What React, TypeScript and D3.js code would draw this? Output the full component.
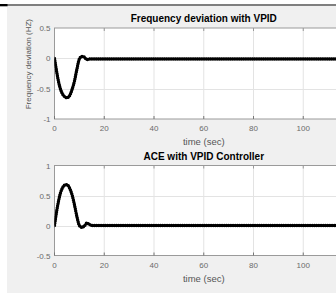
import * as d3 from 'd3';
import { useEffect, useRef } from 'react';

// time samples (sec)
const time = [0, 0.5, 1, 1.5, 2, 3, 4, 5, 6, 7, 8, 9, 10, 11, 12, 13, 14, 15, 20, 30, 40, 50, 60, 70, 80, 90, 100, 110, 120];
// frequency deviation (Hz)
const freqDev = [0, -0.13, -0.25, -0.36, -0.45, -0.57, -0.63, -0.65, -0.62, -0.52, -0.38, -0.18, -0.01, 0.03, 0.02, -0.02, -0.01, -0.01, -0.01, -0.01, -0.01, -0.01, -0.01, -0.01, -0.01, -0.01, -0.01, -0.01, -0.01];
// area control error
const ace = [0, 0.14, 0.27, 0.38, 0.48, 0.61, 0.67, 0.68, 0.63, 0.52, 0.35, 0.15, 0.0, -0.03, -0.01, 0.04, 0.02, 0.0, 0.0, 0.0, 0.0, 0.0, 0.0, 0.0, 0.0, 0.0, 0.0, 0.0, 0.0];

const xTicks = [0, 20, 40, 60, 80, 100, 120];
const topYTicks = [-1, -0.5, 0, 0.5];
const botYTicks = [-0.5, 0, 0.5, 1];

const W = 336;
const H = 293;
const FONT = '"Liberation Sans", Arial, Helvetica, sans-serif';

type Panel = {
  top: number;
  bottom: number;
  domain: [number, number];
  yTicks: number[];
  values: number[];
  title: string;
  ylabel?: string;
};

const panels: Panel[] = [
  { top: 28, bottom: 119, domain: [-1, 0.5], yTicks: topYTicks, values: freqDev, title: 'Frequency deviation with VPID', ylabel: 'Frequency deviation (HZ)' },
  { top: 165.5, bottom: 255.5, domain: [-0.5, 1], yTicks: botYTicks, values: ace, title: 'ACE with VPID Controller' },
];

export default function App() {
  const ref = useRef<SVGSVGElement | null>(null);

  useEffect(() => {
    if (!ref.current) return;
    const svg = d3.select(ref.current);
    svg.selectAll('*').remove();

    // page frame
    svg.append('rect').attr('width', W).attr('height', H).attr('fill', '#fff');
    svg.append('rect').attr('x', 7).attr('y', 6).attr('width', W - 7).attr('height', H - 6).attr('fill', '#f0f0f0');
    svg.append('rect').attr('x', 0).attr('y', 4.5).attr('width', W).attr('height', 1).attr('fill', '#000');
    svg.append('rect').attr('x', 0).attr('y', 4).attr('width', 7.5).attr('height', 2.3).attr('fill', '#000');

    const left = 54.5;
    const right = 353;
    const x = d3.scaleLinear().domain([0, 120]).range([left, right]);

    panels.forEach((p, pi) => {
      const y = d3.scaleLinear().domain(p.domain).range([p.bottom, p.top]);
      const g = svg.append('g').attr('font-family', FONT);
      const clipId = `clip${pi}`;
      g.append('clipPath').attr('id', clipId).append('rect')
        .attr('x', left).attr('y', p.top).attr('width', right - left).attr('height', p.bottom - p.top);

      g.append('rect').attr('x', left).attr('y', p.top).attr('width', right - left).attr('height', p.bottom - p.top).attr('fill', '#fff');

      // grid
      g.selectAll('.gx').data(xTicks.slice(1)).enter().append('line')
        .attr('x1', (d) => x(d)).attr('x2', (d) => x(d))
        .attr('y1', p.top).attr('y2', p.bottom)
        .attr('stroke', '#e3e3e3').attr('stroke-width', 1);
      g.selectAll('.gy').data(p.yTicks.slice(1, -1)).enter().append('line')
        .attr('x1', left).attr('x2', right)
        .attr('y1', (d) => Math.round(y(d)) + 0.5).attr('y2', (d) => Math.round(y(d)) + 0.5)
        .attr('stroke', '#e3e3e3').attr('stroke-width', 1);

      // box
      g.append('rect').attr('x', left).attr('y', p.top).attr('width', right - left).attr('height', p.bottom - p.top)
        .attr('fill', 'none').attr('stroke', '#9a9a9a').attr('stroke-width', 1);
      g.selectAll('.tk').data(xTicks).enter().append('line')
        .attr('x1', (d) => x(d)).attr('x2', (d) => x(d))
        .attr('y1', p.bottom).attr('y2', p.bottom - 3)
        .attr('stroke', '#777');
      g.selectAll('.tkt').data(xTicks).enter().append('line')
        .attr('x1', (d) => x(d)).attr('x2', (d) => x(d))
        .attr('y1', p.top).attr('y2', p.top + 3)
        .attr('stroke', '#999');

      // tick labels (the last one falls outside the cropped picture)
      g.selectAll('.xl').data(xTicks.filter((d) => x(d) + 6 < W)).enter().append('text')
        .attr('x', (d) => x(d)).attr('y', p.bottom + 12)
        .attr('text-anchor', 'middle').attr('font-size', 8).attr('fill', '#6a6a6a')
        .text((d) => String(d));
      g.selectAll('.yl').data(p.yTicks).enter().append('text')
        .attr('x', left - 4).attr('y', (d) => y(d) + 3)
        .attr('text-anchor', 'end').attr('font-size', 8).attr('fill', '#6a6a6a')
        .text((d) => String(d));

      // curve
      const line = d3.line<number>()
        .x((_, i) => x(time[i]))
        .y((d) => y(d))
        .curve(d3.curveMonotoneX);
      const path = line(p.values) || '';
      g.append('path').attr('d', path).attr('clip-path', `url(#${clipId})`)
        .attr('fill', 'none').attr('stroke', '#000').attr('stroke-width', 2.2).attr('stroke-linejoin', 'round');
      g.append('path').attr('d', path).attr('clip-path', `url(#${clipId})`)
        .attr('fill', 'none').attr('stroke', '#000').attr('stroke-width', 3.4)
        .attr('stroke-linecap', 'round').attr('stroke-dasharray', '0 2.2');

      // title & labels
      g.append('text').attr('x', (left + right) / 2).attr('y', p.top - 6)
        .attr('text-anchor', 'middle').attr('font-size', 10).attr('font-weight', 'bold').attr('fill', '#000')
        .text(p.title);
      g.append('text').attr('x', (left + right) / 2).attr('y', p.bottom + 26)
        .attr('text-anchor', 'middle').attr('font-size', 9.5).attr('fill', '#555')
        .text('time (sec)');
      if (p.ylabel) {
        g.append('text').attr('transform', `translate(31, 19) rotate(-90)`)
          .attr('text-anchor', 'end').attr('font-size', 8).attr('fill', '#555')
          .text(p.ylabel);
      }
    });
  }, []);

  return (
    <svg ref={ref} width={W} height={H} style={{ position: 'fixed', left: 0, top: 0, display: 'block' }} />
  );
}
